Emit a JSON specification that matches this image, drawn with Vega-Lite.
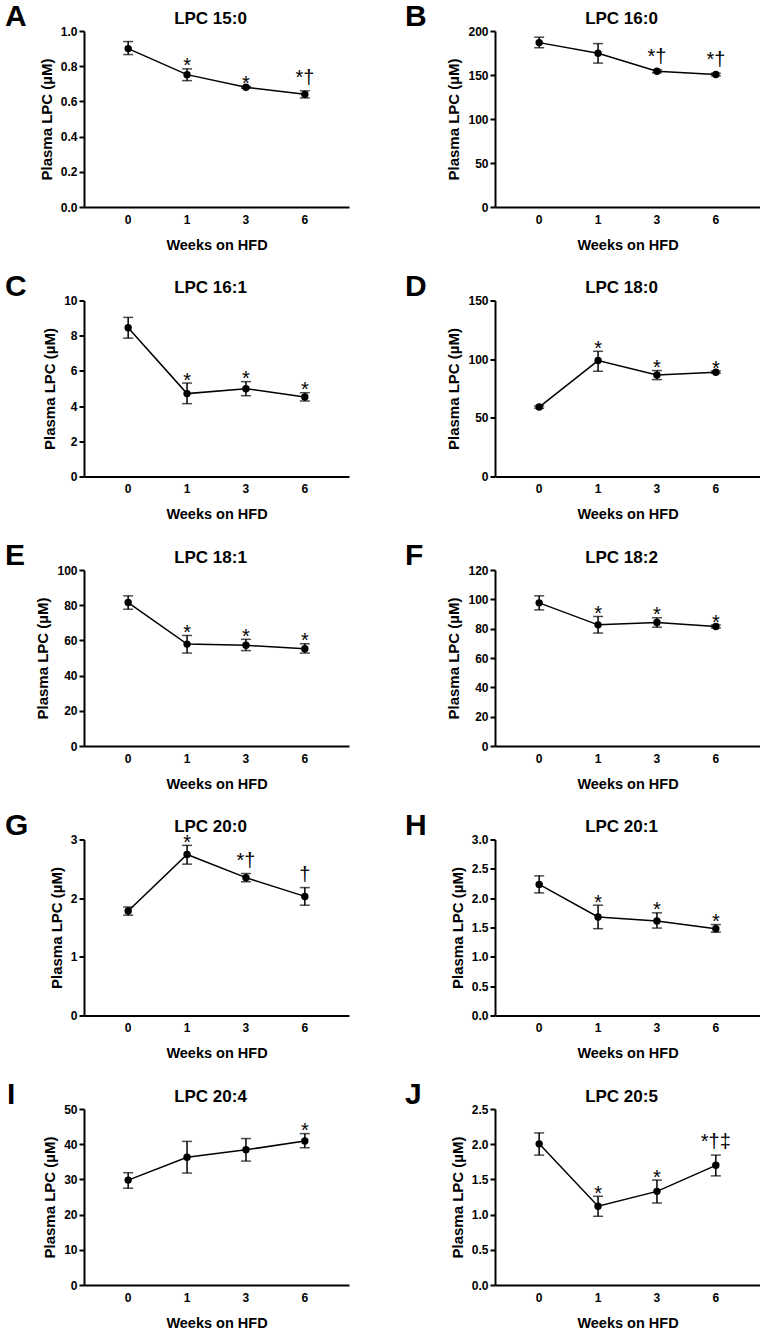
{
  "$schema": "https://vega.github.io/schema/vega-lite/v6.json",
  "padding": {"left": 5, "top": 2, "right": 0, "bottom": 0},
  "background": "white",
  "datasets": {
    "lpc": [
      {"panel": "A", "week": 0, "mean": 0.90, "lo": 0.866, "hi": 0.94, "annot": ""},
      {"panel": "A", "week": 1, "mean": 0.752, "lo": 0.718, "hi": 0.785, "annot": "*"},
      {"panel": "A", "week": 3, "mean": 0.68, "lo": 0.675, "hi": 0.685, "annot": "*"},
      {"panel": "A", "week": 6, "mean": 0.64, "lo": 0.62, "hi": 0.66, "annot": "*†"},
      {"panel": "B", "week": 0, "mean": 186.8, "lo": 181, "hi": 193, "annot": ""},
      {"panel": "B", "week": 1, "mean": 174.7, "lo": 163.5, "hi": 185.7, "annot": ""},
      {"panel": "B", "week": 3, "mean": 154.3, "lo": 152.5, "hi": 156, "annot": "*†"},
      {"panel": "B", "week": 6, "mean": 150.6, "lo": 149, "hi": 152, "annot": "*†"},
      {"panel": "C", "week": 0, "mean": 8.45, "lo": 7.86, "hi": 9.04, "annot": ""},
      {"panel": "C", "week": 1, "mean": 4.71, "lo": 4.14, "hi": 5.31, "annot": "*"},
      {"panel": "C", "week": 3, "mean": 4.99, "lo": 4.59, "hi": 5.39, "annot": "*"},
      {"panel": "C", "week": 6, "mean": 4.52, "lo": 4.29, "hi": 4.76, "annot": "*"},
      {"panel": "D", "week": 0, "mean": 59.2, "lo": 58.2, "hi": 60.2, "annot": ""},
      {"panel": "D", "week": 1, "mean": 98.8, "lo": 89.7, "hi": 106.7, "annot": "*"},
      {"panel": "D", "week": 3, "mean": 86.6, "lo": 82.6, "hi": 90.3, "annot": "*"},
      {"panel": "D", "week": 6, "mean": 88.9, "lo": 87.9, "hi": 89.9, "annot": "*"},
      {"panel": "E", "week": 0, "mean": 81.5, "lo": 77.7, "hi": 85.3, "annot": ""},
      {"panel": "E", "week": 1, "mean": 57.9, "lo": 52.8, "hi": 62.8, "annot": "*"},
      {"panel": "E", "week": 3, "mean": 57.2, "lo": 54.2, "hi": 60.6, "annot": "*"},
      {"panel": "E", "week": 6, "mean": 55.3, "lo": 52.8, "hi": 58.1, "annot": "*"},
      {"panel": "F", "week": 0, "mean": 97.6, "lo": 92.8, "hi": 102.4, "annot": ""},
      {"panel": "F", "week": 1, "mean": 82.6, "lo": 77, "hi": 88.3, "annot": "*"},
      {"panel": "F", "week": 3, "mean": 84.2, "lo": 81, "hi": 87.4, "annot": "*"},
      {"panel": "F", "week": 6, "mean": 81.5, "lo": 80.5, "hi": 82.5, "annot": "*"},
      {"panel": "G", "week": 0, "mean": 1.78, "lo": 1.71, "hi": 1.85, "annot": ""},
      {"panel": "G", "week": 1, "mean": 2.745, "lo": 2.58, "hi": 2.9, "annot": "*"},
      {"panel": "G", "week": 3, "mean": 2.35, "lo": 2.28, "hi": 2.42, "annot": "*†"},
      {"panel": "G", "week": 6, "mean": 2.03, "lo": 1.88, "hi": 2.18, "annot": "†"},
      {"panel": "H", "week": 0, "mean": 2.235, "lo": 2.09, "hi": 2.38, "annot": ""},
      {"panel": "H", "week": 1, "mean": 1.68, "lo": 1.48, "hi": 1.88, "annot": "*"},
      {"panel": "H", "week": 3, "mean": 1.61, "lo": 1.49, "hi": 1.75, "annot": "*"},
      {"panel": "H", "week": 6, "mean": 1.48, "lo": 1.42, "hi": 1.55, "annot": "*"},
      {"panel": "I", "week": 0, "mean": 29.8, "lo": 27.5, "hi": 31.9, "annot": ""},
      {"panel": "I", "week": 1, "mean": 36.3, "lo": 31.8, "hi": 40.8, "annot": ""},
      {"panel": "I", "week": 3, "mean": 38.4, "lo": 35.2, "hi": 41.6, "annot": ""},
      {"panel": "I", "week": 6, "mean": 40.9, "lo": 39, "hi": 43, "annot": "*"},
      {"panel": "J", "week": 0, "mean": 2.005, "lo": 1.845, "hi": 2.16, "annot": ""},
      {"panel": "J", "week": 1, "mean": 1.12, "lo": 0.976, "hi": 1.26, "annot": "*"},
      {"panel": "J", "week": 3, "mean": 1.33, "lo": 1.165, "hi": 1.49, "annot": "*"},
      {"panel": "J", "week": 6, "mean": 1.7, "lo": 1.55, "hi": 1.845, "annot": "*†‡"}
    ]
  },
  "vconcat": [
    {"hconcat": [
      {"title": {"text": "A", "dx": -79},
       "width": 265, "height": 176, "data": {"name": "lpc"}, "transform": [{"filter": "datum.panel === 'A'"}],
       "resolve": {"axis": {"y": "independent"}},
       "encoding": {"x": {"field": "week", "type": "ordinal", "scale": {"padding": 0.5}, "axis": null}},
       "layer": [
         {"mark": "rule", "encoding": {"x": {"field": "week", "type": "ordinal", "scale": {"padding": 0.5}, "axis": {"orient": "bottom", "title": "Weeks on HFD"}}, "y": {"field": "lo", "type": "quantitative", "scale": {"domain": [0, 1], "nice": false}, "axis": {"title": "Plasma LPC (µM)", "values": [0, 0.2, 0.4, 0.6, 0.8, 1], "format": ".1f"}}, "y2": {"field": "hi"}}},
         {"mark": "tick", "encoding": {"y": {"field": "lo", "type": "quantitative", "axis": null}}},
         {"mark": "tick", "encoding": {"y": {"field": "hi", "type": "quantitative", "axis": null}}},
         {"mark": "line", "encoding": {"y": {"field": "mean", "type": "quantitative", "axis": null}}},
         {"mark": "circle", "encoding": {"x": {"field": "week", "type": "ordinal", "scale": {"padding": 0.5}, "axis": {"orient": "top", "title": "LPC 15:0"}}, "y": {"field": "mean", "type": "quantitative", "axis": null}}},
         {"transform": [{"filter": "datum.annot === '*'"}], "mark": {"type": "text", "dy": 3.6}, "encoding": {"y": {"field": "hi", "type": "quantitative", "axis": null}, "text": {"field": "annot"}}},
         {"transform": [{"filter": "datum.annot !== '*' && datum.annot !== ''"}], "mark": {"type": "text", "dy": -7}, "encoding": {"y": {"field": "hi", "type": "quantitative", "axis": null}, "text": {"field": "annot"}}}
       ]},
      {"title": {"text": "B", "dx": -90},
       "width": 265, "height": 176, "data": {"name": "lpc"}, "transform": [{"filter": "datum.panel === 'B'"}],
       "resolve": {"axis": {"y": "independent"}},
       "encoding": {"x": {"field": "week", "type": "ordinal", "scale": {"padding": 0.5}, "axis": null}},
       "layer": [
         {"mark": "rule", "encoding": {"x": {"field": "week", "type": "ordinal", "scale": {"padding": 0.5}, "axis": {"orient": "bottom", "title": "Weeks on HFD"}}, "y": {"field": "lo", "type": "quantitative", "scale": {"domain": [0, 200], "nice": false}, "axis": {"title": "Plasma LPC (µM)", "values": [0, 50, 100, 150, 200]}}, "y2": {"field": "hi"}}},
         {"mark": "tick", "encoding": {"y": {"field": "lo", "type": "quantitative", "axis": null}}},
         {"mark": "tick", "encoding": {"y": {"field": "hi", "type": "quantitative", "axis": null}}},
         {"mark": "line", "encoding": {"y": {"field": "mean", "type": "quantitative", "axis": null}}},
         {"mark": "circle", "encoding": {"x": {"field": "week", "type": "ordinal", "scale": {"padding": 0.5}, "axis": {"orient": "top", "title": "LPC 16:0"}}, "y": {"field": "mean", "type": "quantitative", "axis": null}}},
         {"transform": [{"filter": "datum.annot === '*'"}], "mark": {"type": "text", "dy": 3.6}, "encoding": {"y": {"field": "hi", "type": "quantitative", "axis": null}, "text": {"field": "annot"}}},
         {"transform": [{"filter": "datum.annot !== '*' && datum.annot !== ''"}], "mark": {"type": "text", "dy": -7}, "encoding": {"y": {"field": "hi", "type": "quantitative", "axis": null}, "text": {"field": "annot"}}}
       ]}
    ], "spacing": 56},
    {"hconcat": [
      {"title": {"text": "C", "dx": -79},
       "width": 265, "height": 176, "data": {"name": "lpc"}, "transform": [{"filter": "datum.panel === 'C'"}],
       "resolve": {"axis": {"y": "independent"}},
       "encoding": {"x": {"field": "week", "type": "ordinal", "scale": {"padding": 0.5}, "axis": null}},
       "layer": [
         {"mark": "rule", "encoding": {"x": {"field": "week", "type": "ordinal", "scale": {"padding": 0.5}, "axis": {"orient": "bottom", "title": "Weeks on HFD"}}, "y": {"field": "lo", "type": "quantitative", "scale": {"domain": [0, 10], "nice": false}, "axis": {"title": "Plasma LPC (µM)", "values": [0, 2, 4, 6, 8, 10]}}, "y2": {"field": "hi"}}},
         {"mark": "tick", "encoding": {"y": {"field": "lo", "type": "quantitative", "axis": null}}},
         {"mark": "tick", "encoding": {"y": {"field": "hi", "type": "quantitative", "axis": null}}},
         {"mark": "line", "encoding": {"y": {"field": "mean", "type": "quantitative", "axis": null}}},
         {"mark": "circle", "encoding": {"x": {"field": "week", "type": "ordinal", "scale": {"padding": 0.5}, "axis": {"orient": "top", "title": "LPC 16:1"}}, "y": {"field": "mean", "type": "quantitative", "axis": null}}},
         {"transform": [{"filter": "datum.annot === '*'"}], "mark": {"type": "text", "dy": 3.6}, "encoding": {"y": {"field": "hi", "type": "quantitative", "axis": null}, "text": {"field": "annot"}}},
         {"transform": [{"filter": "datum.annot !== '*' && datum.annot !== ''"}], "mark": {"type": "text", "dy": -7}, "encoding": {"y": {"field": "hi", "type": "quantitative", "axis": null}, "text": {"field": "annot"}}}
       ]},
      {"title": {"text": "D", "dx": -90},
       "width": 265, "height": 176, "data": {"name": "lpc"}, "transform": [{"filter": "datum.panel === 'D'"}],
       "resolve": {"axis": {"y": "independent"}},
       "encoding": {"x": {"field": "week", "type": "ordinal", "scale": {"padding": 0.5}, "axis": null}},
       "layer": [
         {"mark": "rule", "encoding": {"x": {"field": "week", "type": "ordinal", "scale": {"padding": 0.5}, "axis": {"orient": "bottom", "title": "Weeks on HFD"}}, "y": {"field": "lo", "type": "quantitative", "scale": {"domain": [0, 150], "nice": false}, "axis": {"title": "Plasma LPC (µM)", "values": [0, 50, 100, 150]}}, "y2": {"field": "hi"}}},
         {"mark": "tick", "encoding": {"y": {"field": "lo", "type": "quantitative", "axis": null}}},
         {"mark": "tick", "encoding": {"y": {"field": "hi", "type": "quantitative", "axis": null}}},
         {"mark": "line", "encoding": {"y": {"field": "mean", "type": "quantitative", "axis": null}}},
         {"mark": "circle", "encoding": {"x": {"field": "week", "type": "ordinal", "scale": {"padding": 0.5}, "axis": {"orient": "top", "title": "LPC 18:0"}}, "y": {"field": "mean", "type": "quantitative", "axis": null}}},
         {"transform": [{"filter": "datum.annot === '*'"}], "mark": {"type": "text", "dy": 3.6}, "encoding": {"y": {"field": "hi", "type": "quantitative", "axis": null}, "text": {"field": "annot"}}},
         {"transform": [{"filter": "datum.annot !== '*' && datum.annot !== ''"}], "mark": {"type": "text", "dy": -7}, "encoding": {"y": {"field": "hi", "type": "quantitative", "axis": null}, "text": {"field": "annot"}}}
       ]}
    ], "spacing": 56},
    {"hconcat": [
      {"title": {"text": "E", "dx": -79},
       "width": 265, "height": 176, "data": {"name": "lpc"}, "transform": [{"filter": "datum.panel === 'E'"}],
       "resolve": {"axis": {"y": "independent"}},
       "encoding": {"x": {"field": "week", "type": "ordinal", "scale": {"padding": 0.5}, "axis": null}},
       "layer": [
         {"mark": "rule", "encoding": {"x": {"field": "week", "type": "ordinal", "scale": {"padding": 0.5}, "axis": {"orient": "bottom", "title": "Weeks on HFD"}}, "y": {"field": "lo", "type": "quantitative", "scale": {"domain": [0, 100], "nice": false}, "axis": {"title": "Plasma LPC (µM)", "values": [0, 20, 40, 60, 80, 100]}}, "y2": {"field": "hi"}}},
         {"mark": "tick", "encoding": {"y": {"field": "lo", "type": "quantitative", "axis": null}}},
         {"mark": "tick", "encoding": {"y": {"field": "hi", "type": "quantitative", "axis": null}}},
         {"mark": "line", "encoding": {"y": {"field": "mean", "type": "quantitative", "axis": null}}},
         {"mark": "circle", "encoding": {"x": {"field": "week", "type": "ordinal", "scale": {"padding": 0.5}, "axis": {"orient": "top", "title": "LPC 18:1"}}, "y": {"field": "mean", "type": "quantitative", "axis": null}}},
         {"transform": [{"filter": "datum.annot === '*'"}], "mark": {"type": "text", "dy": 3.6}, "encoding": {"y": {"field": "hi", "type": "quantitative", "axis": null}, "text": {"field": "annot"}}},
         {"transform": [{"filter": "datum.annot !== '*' && datum.annot !== ''"}], "mark": {"type": "text", "dy": -7}, "encoding": {"y": {"field": "hi", "type": "quantitative", "axis": null}, "text": {"field": "annot"}}}
       ]},
      {"title": {"text": "F", "dx": -90},
       "width": 265, "height": 176, "data": {"name": "lpc"}, "transform": [{"filter": "datum.panel === 'F'"}],
       "resolve": {"axis": {"y": "independent"}},
       "encoding": {"x": {"field": "week", "type": "ordinal", "scale": {"padding": 0.5}, "axis": null}},
       "layer": [
         {"mark": "rule", "encoding": {"x": {"field": "week", "type": "ordinal", "scale": {"padding": 0.5}, "axis": {"orient": "bottom", "title": "Weeks on HFD"}}, "y": {"field": "lo", "type": "quantitative", "scale": {"domain": [0, 120], "nice": false}, "axis": {"title": "Plasma LPC (µM)", "values": [0, 20, 40, 60, 80, 100, 120]}}, "y2": {"field": "hi"}}},
         {"mark": "tick", "encoding": {"y": {"field": "lo", "type": "quantitative", "axis": null}}},
         {"mark": "tick", "encoding": {"y": {"field": "hi", "type": "quantitative", "axis": null}}},
         {"mark": "line", "encoding": {"y": {"field": "mean", "type": "quantitative", "axis": null}}},
         {"mark": "circle", "encoding": {"x": {"field": "week", "type": "ordinal", "scale": {"padding": 0.5}, "axis": {"orient": "top", "title": "LPC 18:2"}}, "y": {"field": "mean", "type": "quantitative", "axis": null}}},
         {"transform": [{"filter": "datum.annot === '*'"}], "mark": {"type": "text", "dy": 3.6}, "encoding": {"y": {"field": "hi", "type": "quantitative", "axis": null}, "text": {"field": "annot"}}},
         {"transform": [{"filter": "datum.annot !== '*' && datum.annot !== ''"}], "mark": {"type": "text", "dy": -7}, "encoding": {"y": {"field": "hi", "type": "quantitative", "axis": null}, "text": {"field": "annot"}}}
       ]}
    ], "spacing": 56},
    {"hconcat": [
      {"title": {"text": "G", "dx": -79},
       "width": 265, "height": 176, "data": {"name": "lpc"}, "transform": [{"filter": "datum.panel === 'G'"}],
       "resolve": {"axis": {"y": "independent"}},
       "encoding": {"x": {"field": "week", "type": "ordinal", "scale": {"padding": 0.5}, "axis": null}},
       "layer": [
         {"mark": "rule", "encoding": {"x": {"field": "week", "type": "ordinal", "scale": {"padding": 0.5}, "axis": {"orient": "bottom", "title": "Weeks on HFD"}}, "y": {"field": "lo", "type": "quantitative", "scale": {"domain": [0, 3], "nice": false}, "axis": {"title": "Plasma LPC (µM)", "values": [0, 1, 2, 3]}}, "y2": {"field": "hi"}}},
         {"mark": "tick", "encoding": {"y": {"field": "lo", "type": "quantitative", "axis": null}}},
         {"mark": "tick", "encoding": {"y": {"field": "hi", "type": "quantitative", "axis": null}}},
         {"mark": "line", "encoding": {"y": {"field": "mean", "type": "quantitative", "axis": null}}},
         {"mark": "circle", "encoding": {"x": {"field": "week", "type": "ordinal", "scale": {"padding": 0.5}, "axis": {"orient": "top", "title": "LPC 20:0"}}, "y": {"field": "mean", "type": "quantitative", "axis": null}}},
         {"transform": [{"filter": "datum.annot === '*'"}], "mark": {"type": "text", "dy": 3.6}, "encoding": {"y": {"field": "hi", "type": "quantitative", "axis": null}, "text": {"field": "annot"}}},
         {"transform": [{"filter": "datum.annot !== '*' && datum.annot !== ''"}], "mark": {"type": "text", "dy": -7}, "encoding": {"y": {"field": "hi", "type": "quantitative", "axis": null}, "text": {"field": "annot"}}}
       ]},
      {"title": {"text": "H", "dx": -90},
       "width": 265, "height": 176, "data": {"name": "lpc"}, "transform": [{"filter": "datum.panel === 'H'"}],
       "resolve": {"axis": {"y": "independent"}},
       "encoding": {"x": {"field": "week", "type": "ordinal", "scale": {"padding": 0.5}, "axis": null}},
       "layer": [
         {"mark": "rule", "encoding": {"x": {"field": "week", "type": "ordinal", "scale": {"padding": 0.5}, "axis": {"orient": "bottom", "title": "Weeks on HFD"}}, "y": {"field": "lo", "type": "quantitative", "scale": {"domain": [0, 3], "nice": false}, "axis": {"title": "Plasma LPC (µM)", "values": [0, 0.5, 1, 1.5, 2, 2.5, 3], "format": ".1f"}}, "y2": {"field": "hi"}}},
         {"mark": "tick", "encoding": {"y": {"field": "lo", "type": "quantitative", "axis": null}}},
         {"mark": "tick", "encoding": {"y": {"field": "hi", "type": "quantitative", "axis": null}}},
         {"mark": "line", "encoding": {"y": {"field": "mean", "type": "quantitative", "axis": null}}},
         {"mark": "circle", "encoding": {"x": {"field": "week", "type": "ordinal", "scale": {"padding": 0.5}, "axis": {"orient": "top", "title": "LPC 20:1"}}, "y": {"field": "mean", "type": "quantitative", "axis": null}}},
         {"transform": [{"filter": "datum.annot === '*'"}], "mark": {"type": "text", "dy": 3.6}, "encoding": {"y": {"field": "hi", "type": "quantitative", "axis": null}, "text": {"field": "annot"}}},
         {"transform": [{"filter": "datum.annot !== '*' && datum.annot !== ''"}], "mark": {"type": "text", "dy": -7}, "encoding": {"y": {"field": "hi", "type": "quantitative", "axis": null}, "text": {"field": "annot"}}}
       ]}
    ], "spacing": 56},
    {"hconcat": [
      {"title": {"text": "I", "dx": -77},
       "width": 265, "height": 176, "data": {"name": "lpc"}, "transform": [{"filter": "datum.panel === 'I'"}],
       "resolve": {"axis": {"y": "independent"}},
       "encoding": {"x": {"field": "week", "type": "ordinal", "scale": {"padding": 0.5}, "axis": null}},
       "layer": [
         {"mark": "rule", "encoding": {"x": {"field": "week", "type": "ordinal", "scale": {"padding": 0.5}, "axis": {"orient": "bottom", "title": "Weeks on HFD"}}, "y": {"field": "lo", "type": "quantitative", "scale": {"domain": [0, 50], "nice": false}, "axis": {"title": "Plasma LPC (µM)", "values": [0, 10, 20, 30, 40, 50]}}, "y2": {"field": "hi"}}},
         {"mark": "tick", "encoding": {"y": {"field": "lo", "type": "quantitative", "axis": null}}},
         {"mark": "tick", "encoding": {"y": {"field": "hi", "type": "quantitative", "axis": null}}},
         {"mark": "line", "encoding": {"y": {"field": "mean", "type": "quantitative", "axis": null}}},
         {"mark": "circle", "encoding": {"x": {"field": "week", "type": "ordinal", "scale": {"padding": 0.5}, "axis": {"orient": "top", "title": "LPC 20:4"}}, "y": {"field": "mean", "type": "quantitative", "axis": null}}},
         {"transform": [{"filter": "datum.annot === '*'"}], "mark": {"type": "text", "dy": 3.6}, "encoding": {"y": {"field": "hi", "type": "quantitative", "axis": null}, "text": {"field": "annot"}}},
         {"transform": [{"filter": "datum.annot !== '*' && datum.annot !== ''"}], "mark": {"type": "text", "dy": -7}, "encoding": {"y": {"field": "hi", "type": "quantitative", "axis": null}, "text": {"field": "annot"}}}
       ]},
      {"title": {"text": "J", "dx": -90},
       "width": 265, "height": 176, "data": {"name": "lpc"}, "transform": [{"filter": "datum.panel === 'J'"}],
       "resolve": {"axis": {"y": "independent"}},
       "encoding": {"x": {"field": "week", "type": "ordinal", "scale": {"padding": 0.5}, "axis": null}},
       "layer": [
         {"mark": "rule", "encoding": {"x": {"field": "week", "type": "ordinal", "scale": {"padding": 0.5}, "axis": {"orient": "bottom", "title": "Weeks on HFD"}}, "y": {"field": "lo", "type": "quantitative", "scale": {"domain": [0, 2.5], "nice": false}, "axis": {"title": "Plasma LPC (µM)", "values": [0, 0.5, 1, 1.5, 2, 2.5], "format": ".1f"}}, "y2": {"field": "hi"}}},
         {"mark": "tick", "encoding": {"y": {"field": "lo", "type": "quantitative", "axis": null}}},
         {"mark": "tick", "encoding": {"y": {"field": "hi", "type": "quantitative", "axis": null}}},
         {"mark": "line", "encoding": {"y": {"field": "mean", "type": "quantitative", "axis": null}}},
         {"mark": "circle", "encoding": {"x": {"field": "week", "type": "ordinal", "scale": {"padding": 0.5}, "axis": {"orient": "top", "title": "LPC 20:5"}}, "y": {"field": "mean", "type": "quantitative", "axis": null}}},
         {"transform": [{"filter": "datum.annot === '*'"}], "mark": {"type": "text", "dy": 3.6}, "encoding": {"y": {"field": "hi", "type": "quantitative", "axis": null}, "text": {"field": "annot"}}},
         {"transform": [{"filter": "datum.annot !== '*' && datum.annot !== ''"}], "mark": {"type": "text", "dy": -7}, "encoding": {"y": {"field": "hi", "type": "quantitative", "axis": null}, "text": {"field": "annot"}}}
       ]}
    ], "spacing": 56}
  ],
  "spacing": 19.5,
  "config": {
    "view": {"stroke": null},
    "font": "Liberation Sans",
    "rule": {"color": "black", "strokeWidth": 1.5},
    "tick": {"color": "black", "thickness": 1.5, "size": 10},
    "line": {"color": "black", "strokeWidth": 1.5},
    "circle": {"color": "black", "size": 55, "opacity": 1},
    "text": {"font": "Liberation Sans", "fontSize": 20, "color": "black", "baseline": "alphabetic"},
    "axis": {"domainColor": "black", "domainWidth": 2, "tickColor": "black", "tickWidth": 2, "labelColor": "black", "labelFont": "Liberation Sans", "labelFontWeight": "bold", "labelFontSize": 12, "titleColor": "black", "titleFont": "Liberation Sans", "titleFontWeight": "bold", "grid": false},
    "axisBottom": {"ticks": false, "labelAngle": 0, "labelPadding": 7, "titleFontSize": 14.5, "titlePadding": 13},
    "axisTop": {"labels": false, "ticks": false, "domain": false, "titleFontSize": 17, "titlePadding": 8, "titleBaseline": "alphabetic", "titleX": 126},
    "axisY": {"tickSize": 5, "labelPadding": 2, "titleFontSize": 15, "titlePadding": 6, "labelOverlap": false},
    "title": {"font": "Liberation Sans", "fontWeight": "bold", "color": "black", "fontSize": 30, "anchor": "start", "frame": "group", "baseline": "alphabetic", "offset": 0, "dy": 27}
  }
}
